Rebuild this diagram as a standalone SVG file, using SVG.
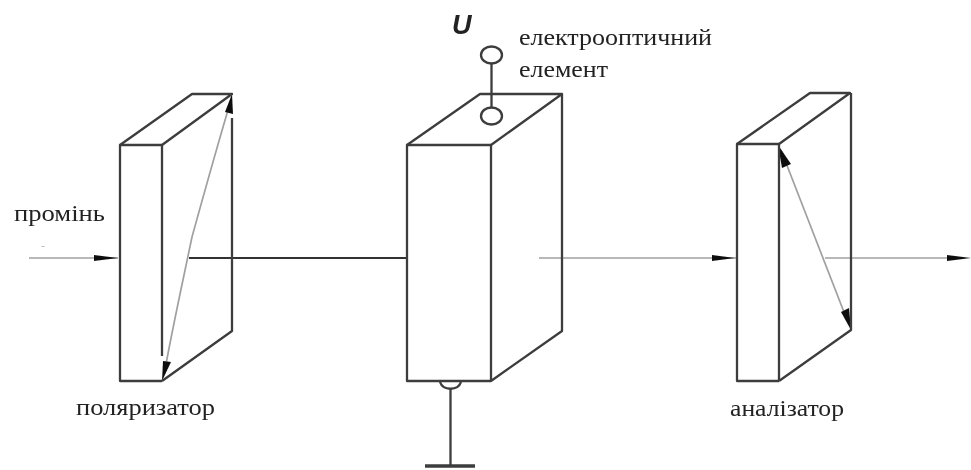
<svg xmlns="http://www.w3.org/2000/svg" width="971" height="470" viewBox="0 0 971 470">
<defs>
<style>
.e{fill:none;stroke:#3c3c3c;stroke-width:2.3;stroke-linejoin:round}
.g{fill:none;stroke:#a0a0a0;stroke-width:1.7}
.d{fill:none;stroke:#333;stroke-width:1.8}
.h{fill:#111;stroke:none}
.t{font-family:"Liberation Serif",serif;font-size:24px;fill:#222}
</style>
<filter id="s" x="-5%" y="-5%" width="110%" height="110%"><feGaussianBlur stdDeviation="0.5"/></filter>
</defs>
<rect width="971" height="470" fill="#fff"/>
<g filter="url(#s)">
<g id="connectors">
<path class="g" d="M29 258H118"/>
<path class="h" d="M94 255L118 258L94 261Z"/>
<path class="d" d="M189 258H407"/>
<path class="g" d="M539 258H737"/>
<path class="h" d="M712 255L735 258L712 261Z"/>
<path class="g" d="M825 258H950"/>
<path class="h" d="M947 255L971 258L947 261Z"/>
<path class="g" d="M231 100C222 130 205 190 192 237C182 285 172 330 164 375"/>
<path class="h" d="M232 94L233 114L225 112Z"/>
<path class="h" d="M162 381L163 361L171 362Z"/>
<path class="g" d="M781 150L849 325"/>
<path class="h" d="M778 145L791 164L782 168Z"/>
<path class="h" d="M851 330L841 312L849 308Z"/>
</g>
<g id="polarizer">
<path class="e" d="M162 356V145H120V381H162"/>
<path class="e" d="M120 145L192 94H232L162 145"/>
<path class="e" d="M232 118V331L162 381"/>
<text class="t" x="76" y="415" textLength="139" lengthAdjust="spacingAndGlyphs">поляризатор</text>
</g>
<g id="electrooptic-element">
<path class="e" d="M407 145H491V381H407Z"/>
<path class="e" d="M407 145L480 94H562L491 145"/>
<path class="e" d="M562 94V331L491 381"/>
<ellipse class="e" cx="491.500" cy="55" rx="10.500" ry="8.500"/>
<ellipse class="e" cx="491.500" cy="116" rx="10.500" ry="8.500"/>
<path class="e" d="M491.500 63.500V107.500"/>
<path class="e" d="M440 382C443 391 458 391 461 382"/>
<path class="e" d="M450.500 389V466"/>
<path class="e" style="stroke-width:3.500" d="M425 466H475"/>
<text x="452" y="34" style="font-family:'Liberation Sans',sans-serif;font-weight:bold;font-style:italic;font-size:27px;fill:#222">U</text>
<text class="t" x="519" y="45" textLength="193" lengthAdjust="spacingAndGlyphs">електрооптичний</text>
<text class="t" x="519" y="77" textLength="89" lengthAdjust="spacingAndGlyphs">елемент</text>
</g>
<g id="analyzer">
<path class="e" d="M779 381H737V144H779V381"/>
<path class="e" d="M737 144L810 93H850L779 144"/>
<path class="e" d="M851 93V330L779 381"/>
<text class="t" x="730" y="416" textLength="114" lengthAdjust="spacingAndGlyphs">аналізатор</text>
</g>
<g id="beam-label">
<text class="t" x="14" y="221" textLength="91" lengthAdjust="spacingAndGlyphs">промінь</text>
<text x="41" y="250" style="font-family:'Liberation Serif',serif;font-size:12px;fill:#bbb">-</text>
</g>
</g>
</svg>
